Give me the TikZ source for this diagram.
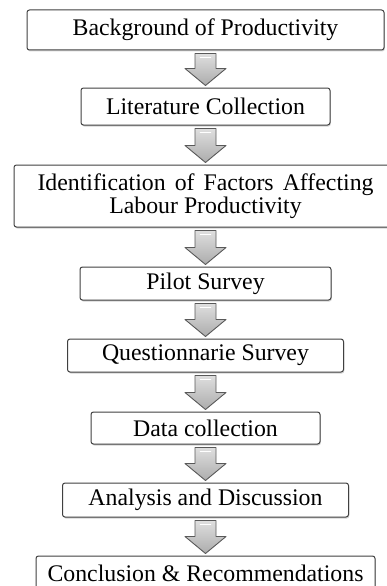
\documentclass[tikz,border=0pt]{standalone}
\usepackage{fontspec}
\setmainfont{Liberation Serif}
\usetikzlibrary{calc}
\usetikzlibrary{shadows}

% fat grey block arrow from the bottom of one box to the top of the next
\newcommand{\flowarrow}[2]{%
  \draw[fat] let \p1=($(#1.south)+(0,-3)$), \p2=($(#2.north)+(0,2)$) in
    (\x1-10.5pt,\y1) -- (\x1+10.5pt,\y1) -- (\x1+10.5pt,\y2+17pt) -- (\x1+20.5pt,\y2+17pt)
    -- (\x1,\y2) -- (\x1-20.5pt,\y2+17pt) -- (\x1-10.5pt,\y2+17pt) -- cycle;
  \draw[gloss] let \p1=($(#1.south)+(0,-7)$) in (\x1-5pt,\y1) -- (\x1+5pt,\y1);}

\begin{document}
\begin{tikzpicture}[x=1pt,y=1pt,
        stage/.style={draw=black!75,rectangle,rounded corners=2.5pt,line width=1pt,fill=white,
          inner sep=0pt,font=\fontsize{23.8}{23.5}\selectfont,align=center,
          drop shadow={opacity=0.35,shadow xshift=0.8pt,shadow yshift=-1.5pt}},
        fat/.style={draw=black!65,line width=0.9pt,line join=round,top color=gray!25,bottom color=gray!65},
        gloss/.style={draw=white,line width=1.6pt,line cap=round}
      ]
      \useasboundingbox (0,0) rectangle (386,-586);
      \node[stage,minimum width=357,minimum height=40] (bg) at (205.5,-30) {Background of Productivity};
      \node[stage,minimum width=249,minimum height=37] (lit) at (205.5,-106.5) {Literature Collection};
      \node[stage,minimum width=383,minimum height=62] (fac) at (205.5,-196)
        {\makebox[336pt][s]{Identification of Factors Affecting}\\Labour Productivity};
      \node[stage,minimum width=251,minimum height=33] (pil) at (205.5,-283.5) {Pilot Survey};
      \node[stage,minimum width=276,minimum height=33] (que) at (205.5,-355.5) {Questionnarie Survey};
      \node[stage,minimum width=229,minimum height=32] (dat) at (205.5,-428) {Data collection};
      \node[stage,minimum width=286,minimum height=34] (ana) at (205.5,-500) {Analysis and Discussion};
      \node[stage,minimum width=339,minimum height=35] (con) at (205.5,-573.5) {Conclusion \& Recommendations};
      % Connections.
      \flowarrow{bg}{lit}
      \flowarrow{lit}{fac}
      \flowarrow{fac}{pil}
      \flowarrow{pil}{que}
      \flowarrow{que}{dat}
      \flowarrow{dat}{ana}
      \flowarrow{ana}{con}
    \end{tikzpicture}
\end{document}
